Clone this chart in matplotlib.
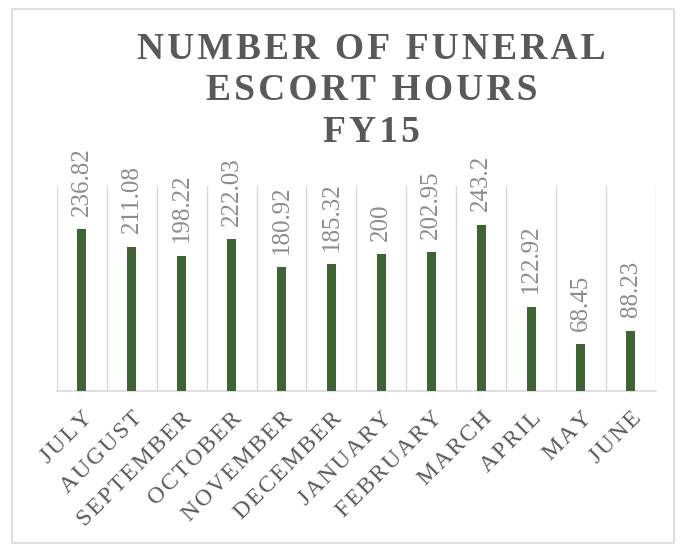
import matplotlib.pyplot as plt
from matplotlib.patches import Rectangle

months = ['JULY', 'AUGUST', 'SEPTEMBER', 'OCTOBER', 'NOVEMBER', 'DECEMBER',
          'JANUARY', 'FEBRUARY', 'MARCH', 'APRIL', 'MAY', 'JUNE']
hours = [236.82, 211.08, 198.22, 222.03, 180.92, 185.32,
         200, 202.95, 243.2, 122.92, 68.45, 88.23]
value_labels = ['236.82', '211.08', '198.22', '222.03', '180.92', '185.32',
                '200', '202.95', '243.2', '122.92', '68.45', '88.23']
title_lines = ['NUMBER OF FUNERAL', 'ESCORT HOURS', 'FY15']


def spaced(s, gap='\u200a'):
    # crude letter spacing
    return gap.join(s)


plt.rcParams['font.family'] = ['Liberation Serif', 'DejaVu Serif']

fig = plt.figure(figsize=(6.86, 5.44), dpi=100)
# outer chart border
fig.patches.append(Rectangle((0.017, 0.002), 0.965, 0.981, transform=fig.transFigure,
                             fill=False, edgecolor='#d9d9d9', linewidth=1.2))

ax = fig.add_axes([0.083, 0.281, 0.873, 0.377])
x = range(len(months))
ax.bar(x, hours, width=0.18, color='#3d6531', zorder=3)

for i, v in enumerate(hours):
    ax.text(i, v + 20, value_labels[i], rotation=90, ha='center', va='bottom',
            fontsize=18, color='#8c8c8c')

ax.set_xlim(-0.5, len(months) - 0.5)
ax.set_ylim(0, 300)
for b in range(len(months) + 1):
    ax.axvline(b - 0.5, color='#d9d9d9', linewidth=1, zorder=1)

ax.set_xticks(list(x))
ax.set_xticklabels([spaced(m) for m in months], rotation=45, ha='right',
                   rotation_mode='anchor', fontsize=17, color='#595959')
ax.tick_params(axis='x', length=0, pad=12)
ax.set_yticks([])
for s in ['top', 'left', 'right']:
    ax.spines[s].set_visible(False)
ax.spines['bottom'].set_color('#d9d9d9')
ax.spines['bottom'].set_linewidth(1.2)

for txt, yy in zip(title_lines, [0.909, 0.834, 0.757]):
    fig.text(0.542, yy, spaced(txt), ha='center', va='center',
             fontsize=27, fontweight='bold', color='#595959')

fig.savefig('out.png', dpi=100)
